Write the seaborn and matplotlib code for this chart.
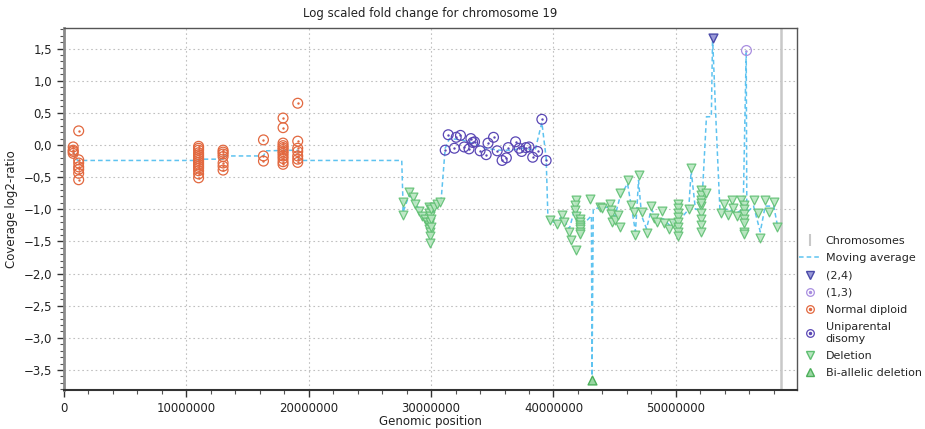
import matplotlib
matplotlib.use("Agg")
import matplotlib.pyplot as plt
import matplotlib.ticker as mticker
from matplotlib.lines import Line2D
from matplotlib.legend_handler import HandlerTuple
import seaborn as sns
import pandas as pd

# ---------------- data (positions in bp, values log2 ratio) ----------------
nd_pos = ([0.75e6] * 4 + [1.2e6] * 7 + [11.0e6] * 15 + [13.0e6] * 7
          + [16.3e6] * 3 + [17.9e6] * 12 + [19.1e6] * 7)
nd_val = ([-0.03, -0.08, -0.13, -0.10]
          + [0.22, -0.23, -0.28, -0.34, -0.38, -0.44, -0.54]
          + [-0.02, -0.05, -0.08, -0.12, -0.15, -0.18, -0.21, -0.24, -0.27, -0.30, -0.33, -0.36, -0.40, -0.45, -0.51]
          + [-0.08, -0.11, -0.14, -0.18, -0.28, -0.33, -0.39]
          + [0.08, -0.17, -0.25]
          + [0.42, 0.27, 0.03, -0.01, -0.04, -0.07, -0.10, -0.13, -0.17, -0.21, -0.26, -0.30]
          + [0.65, 0.06, -0.05, -0.10, -0.17, -0.22, -0.27])

upd_pos = [31.15e6, 31.4e6, 31.9e6, 32.05e6, 32.4e6, 32.7e6, 33.1e6, 33.25e6, 33.4e6, 33.55e6,
           34.0e6, 34.5e6, 34.65e6, 35.1e6, 35.4e6, 35.8e6, 36.15e6, 36.3e6, 36.9e6, 37.2e6,
           37.4e6, 37.75e6, 38.0e6, 38.3e6, 38.7e6, 39.05e6, 39.4e6]
upd_val = [-0.08, 0.16, -0.05, 0.12, 0.15, -0.03, -0.06, 0.10, 0.04, 0.05,
           -0.09, -0.15, 0.03, 0.12, -0.09, -0.24, -0.20, -0.04, 0.05, -0.05,
           -0.10, -0.04, -0.03, -0.19, -0.10, 0.40, -0.24]

del_pos = ([27.7e6, 27.7e6, 28.2e6, 28.5e6, 28.7e6, 29.0e6, 29.25e6, 29.5e6, 29.65e6]
           + [29.8e6] * 4 + [29.9e6] * 5 + [30.0e6] * 3 + [30.2e6, 30.5e6, 30.75e6]
           + [39.7e6, 40.3e6, 40.7e6, 40.9e6, 41.25e6, 41.4e6]
           + [41.8e6, 41.75e6, 41.75e6, 41.85e6, 41.85e6]
           + [42.2e6] * 7
           + [42.95e6, 43.8e6, 44.0e6, 44.65e6, 44.7e6, 44.7e6, 44.8e6, 45.05e6, 45.3e6, 45.45e6, 45.45e6]
           + [46.05e6, 46.35e6, 46.55e6, 46.7e6, 46.95e6, 47.2e6, 47.65e6, 47.95e6, 48.2e6, 48.45e6,
              48.85e6, 49.0e6, 49.4e6, 49.75e6]
           + [50.2e6] * 8
           + [51.05e6, 51.25e6]
           + [52.05e6] * 9 + [52.5e6]
           + [53.65e6, 53.9e6, 54.3e6, 54.6e6, 54.7e6, 55.0e6, 55.3e6]
           + [55.55e6] * 7
           + [56.35e6, 56.7e6, 56.9e6, 57.3e6, 57.6e6, 58.05e6, 58.3e6])
del_val = ([-0.89, -1.09, -0.73, -0.81, -0.91, -1.02, -1.11, -1.15, -1.19]
           + [-0.96, -1.05, -1.25, -1.30] + [-1.10, -1.20, -1.35, -1.42, -1.53] + [-1.00, -1.15, -1.28]
           + [-0.96, -0.92, -0.88]
           + [-1.17, -1.23, -1.09, -1.19, -1.35, -1.48]
           + [-0.86, -0.93, -1.01, -1.63, -1.11]
           + [-1.15, -1.20, -1.24, -1.27, -1.31, -1.35, -1.38]
           + [-0.84, -0.96, -0.98, -0.92, -1.01, -1.08, -1.19, -1.17, -1.09, -0.75, -1.27]
           + [-0.54, -0.93, -1.04, -1.40, -0.47, -1.04, -1.37, -0.95, -1.14, -1.19,
              -1.02, -1.22, -1.30, -1.22]
           + [-0.91, -0.98, -1.05, -1.12, -1.20, -1.27, -1.35, -1.42]
           + [-1.00, -0.35]
           + [-0.70, -0.78, -0.85, -0.95, -1.05, -1.15, -1.25, -1.35, -0.90] + [-0.75]
           + [-1.06, -0.91, -1.09, -0.86, -0.98, -1.11, -0.86]
           + [-0.93, -1.00, -1.08, -1.15, -1.22, -1.35, -1.38]
           + [-0.86, -1.06, -1.45, -0.86, -1.04, -0.89, -1.27])

bi_pos = [43.15e6]
bi_val = [-3.65]

p24_pos = [53.0e6]
p24_val = [1.67]

p13_pos = [55.77e6]
p13_val = [1.47]

ma_pos = [0.75e6, 1.1e6, 11.0e6, 11.0e6, 13.0e6, 13.0e6, 16.3e6, 16.5e6, 19.1e6, 19.2e6, 27.6e6,
          27.7e6, 27.7e6, 28.2e6, 28.6e6, 29.0e6, 29.5e6, 29.8e6, 29.9e6, 30.0e6, 30.3e6, 30.8e6,
          31.15e6, 31.5e6, 32.5e6, 33.5e6, 34.5e6, 35.5e6, 36.5e6, 37.5e6, 38.5e6, 39.05e6, 39.4e6, 39.55e6,
          40.0e6, 40.7e6, 41.3e6, 41.8e6, 42.2e6, 42.6e6, 43.1e6, 43.15e6, 43.25e6, 43.8e6, 44.6e6,
          45.0e6, 45.45e6, 46.05e6, 46.4e6, 46.7e6, 46.95e6, 47.2e6, 47.6e6, 48.0e6, 48.5e6, 49.0e6,
          49.5e6, 50.2e6, 50.6e6, 51.05e6, 51.25e6, 51.6e6, 52.1e6, 52.5e6, 52.9e6, 53.0e6, 53.3e6,
          53.6e6, 54.3e6, 55.0e6, 55.5e6, 55.75e6, 55.8e6, 56.35e6, 56.9e6, 57.3e6, 58.0e6, 58.3e6]
ma_val = [-0.10, -0.24, -0.24, -0.22, -0.22, -0.17, -0.17, -0.09, -0.08, -0.24, -0.24,
          -0.89, -1.05, -0.78, -0.85, -1.00, -1.12, -1.20, -1.45, -1.20, -0.95, -0.90,
          -0.05, 0.10, 0.08, 0.02, -0.05, -0.08, -0.08, -0.05, -0.08, 0.35, -0.20, -1.15,
          -1.20, -1.12, -1.30, -0.95, -1.25, -1.20, -1.10, -3.65, -1.00, -0.97, -0.97,
          -1.12, -0.80, -0.60, -1.00, -1.35, -0.55, -1.10, -1.30, -1.00, -1.15, -1.15,
          -1.25, -1.10, -1.10, -1.00, -0.40, -1.00, -1.00, 0.44, 0.44, 1.67, 0.28,
          -1.00, -1.00, -1.05, -1.00, 1.47, -1.05, -0.95, -1.35, -0.95, -0.95, -1.25]

chrom_end = 58.6e6

title = "Log scaled fold change for chromosome 19"
xlabel = "Genomic position"
ylabel = "Coverage log2-ratio"
legend_labels = ["Chromosomes", "Moving average", "(2,4)", "(1,3)", "Normal diploid",
                 "Uniparental\ndisomy", "Deletion", "Bi-allelic deletion"]

# ---------------- styling ----------------
sns.set_theme(style="white")
plt.rcParams['font.family'] = ['DejaVu Sans']

C_ND = "#e2683f"
C_UPD = "#5a47b5"
C_13 = "#a98ee0"
C_24 = "#4a4aa8"
C_DEL_E = "#5fbf72"
C_DEL_F = "#b8e6c0"
C_BI = "#4caf5a"
C_MA = "#5ec3f0"
C_CHR = "#c8c8c8"

fig = plt.figure(figsize=(9.25, 4.29), dpi=100)
ax = fig.add_axes([64 / 925, 1 - 390 / 429, (797 - 64) / 925, (390 - 28) / 429])

ax.axvline(chrom_end, color=C_CHR, lw=1.8, zorder=1)

ma_df = pd.DataFrame({"pos": ma_pos, "val": ma_val})
sns.lineplot(data=ma_df, x="pos", y="val", sort=False, estimator=None, ax=ax,
             color=C_MA, lw=1.1, linestyle=(0, (3, 2)), zorder=2)

def circ(pos, val, color):
    df = pd.DataFrame({"pos": pos, "val": val})
    sns.scatterplot(data=df, x="pos", y="val", ax=ax, marker="o", s=50,
                    facecolor="none", edgecolor=color, linewidth=0.9, zorder=3)
    sns.scatterplot(data=df, x="pos", y="val", ax=ax, marker="o", s=3,
                    color=color, edgecolor=color, linewidth=0, zorder=3)

circ(nd_pos, nd_val, C_ND)
circ(upd_pos, upd_val, C_UPD)
circ(p13_pos, p13_val, C_13)

del_df = pd.DataFrame({"pos": del_pos, "val": del_val})
sns.scatterplot(data=del_df, x="pos", y="val", ax=ax, marker="v", s=40,
                facecolor=C_DEL_F, edgecolor=C_DEL_E, linewidth=0.9, alpha=0.9, zorder=3)
sns.scatterplot(data=pd.DataFrame({"pos": bi_pos, "val": bi_val}), x="pos", y="val", ax=ax,
                marker="^", s=40, facecolor="#9ad7a3", edgecolor=C_BI, linewidth=1.0, zorder=4)
sns.scatterplot(data=pd.DataFrame({"pos": p24_pos, "val": p24_val}), x="pos", y="val", ax=ax,
                marker="v", s=40, facecolor="#9a9ad8", edgecolor=C_24, linewidth=1.0, zorder=4)

ax.set_xlim(0, 59.9e6)
ax.set_ylim(-3.81, 1.82)

ax.xaxis.set_major_locator(mticker.MultipleLocator(10e6))
ax.xaxis.set_minor_locator(mticker.MultipleLocator(2e6))
ax.yaxis.set_major_locator(mticker.MultipleLocator(0.5))
ax.yaxis.set_minor_locator(mticker.MultipleLocator(0.1))
ax.xaxis.set_major_formatter(mticker.FuncFormatter(lambda v, p: f"{int(round(v))}"))
ax.yaxis.set_major_formatter(mticker.FuncFormatter(
    lambda v, p: f"{v:.1f}".replace(".", ",").replace("-", "\u2212")))

ax.tick_params(axis="both", which="major", direction="out", length=5, width=1.0,
               color="#333333", labelsize=8.5, labelcolor="#222222", bottom=True, left=True)
ax.tick_params(axis="both", which="minor", direction="out", length=3, width=0.8,
               color="#555555", bottom=True, left=True)

ax.grid(True, which="major", color="#c0c0c0", linestyle=(0, (1.5, 2.5)), lw=0.8)
for s in ["top", "right"]:
    ax.spines[s].set_color("#555555")
    ax.spines[s].set_linewidth(1.0)
ax.spines["left"].set_color("#8a8a8a")
ax.spines["left"].set_linewidth(2.0)
ax.spines["bottom"].set_color("#333333")
ax.spines["bottom"].set_linewidth(1.5)

ax.set_title(title, fontsize=8.5, color="#222222", pad=8)
ax.set_xlabel(xlabel, fontsize=8.5, color="#222222", labelpad=0)
ax.set_ylabel(ylabel, fontsize=8.5, color="#222222", labelpad=4)

# ---------------- legend ----------------
def circ_handle(color):
    return (Line2D([], [], ls="none", marker="o", ms=5.5, mfc="none", mec=color, mew=0.9),
            Line2D([], [], ls="none", marker="o", ms=1.5, mfc=color, mec=color))

handles = [
    Line2D([], [], ls="none", marker="|", ms=9, mec=C_CHR, mew=1.5),
    Line2D([], [], color=C_MA, lw=1.1, ls=(0, (3, 2))),
    Line2D([], [], ls="none", marker="v", ms=5.5, mfc="#9a9ad8", mec=C_24, mew=1.0),
    circ_handle(C_13),
    circ_handle(C_ND),
    circ_handle(C_UPD),
    Line2D([], [], ls="none", marker="v", ms=5.5, mfc=C_DEL_F, mec=C_DEL_E, mew=1.0),
    Line2D([], [], ls="none", marker="^", ms=5.5, mfc="#9ad7a3", mec=C_BI, mew=1.0),
]
fig.legend(handles, legend_labels, loc="upper left", bbox_to_anchor=(799 / 925, 1 - 236 / 429),
           frameon=False, fontsize=8, handlelength=1.9, handletextpad=0.5, labelspacing=0.65,
           borderaxespad=0, borderpad=0,
           handler_map={tuple: HandlerTuple(ndivide=1, pad=0)})

fig.savefig("out.png", dpi=100)
